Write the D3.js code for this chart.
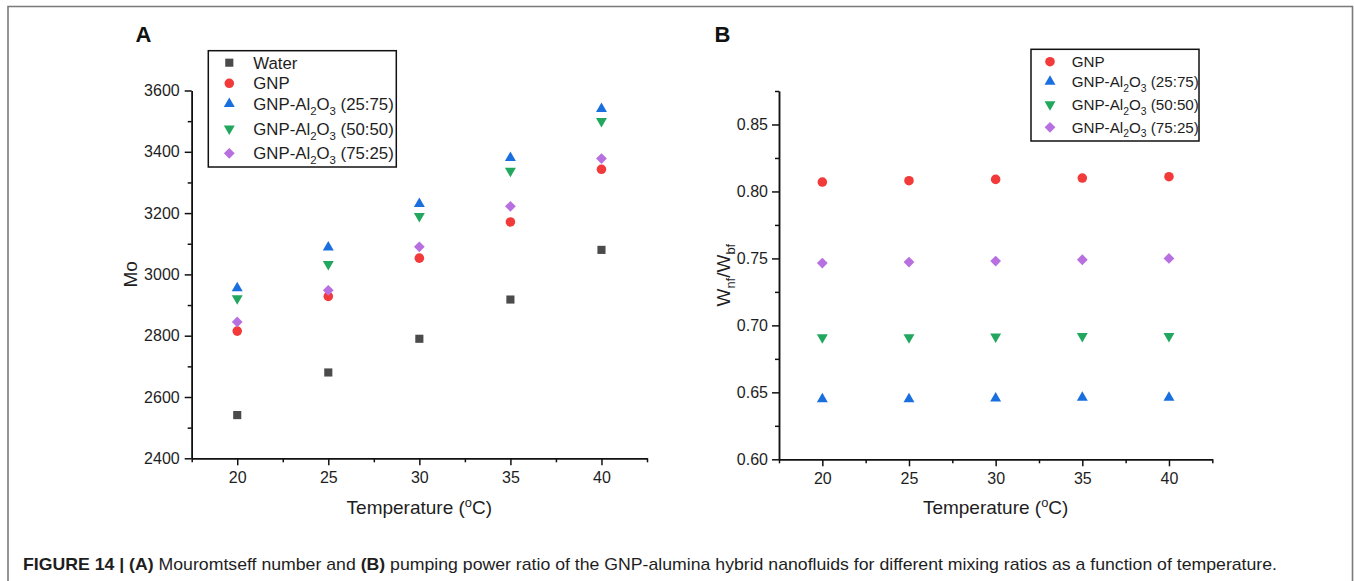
<!DOCTYPE html>
<html><head><meta charset="utf-8">
<script src="https://cdn.jsdelivr.net/npm/d3@7"></script>
<style>body{margin:0;background:#fff}svg{display:block;font-family:"Liberation Sans",Arial,sans-serif}</style>
</head><body><svg id="c" width="1354" height="581"></svg>
<script>
// ---------- data ----------
const temps = [20, 25, 30, 35, 40];
const xMinorTicks = [17.5, 22.5, 27.5, 32.5, 37.5, 42.5];

const moTicks = [2400, 2600, 2800, 3000, 3200, 3400, 3600];
const moMinor = [2500, 2700, 2900, 3100, 3300, 3500];
const moWater   = [2541, 2680, 2790, 2918, 3080];
const moGNP     = [2815, 2928, 3053, 3171, 3343];
const moAl2575  = [2955, 3088, 3230, 3380, 3540];
const moAl5050  = [2922, 3033, 3190, 3338, 3500];
const moAl7525  = [2845, 2948, 3090, 3222, 3378];

const wTicks = [0.60, 0.65, 0.70, 0.75, 0.80, 0.85];
const wMinor = [0.625, 0.675, 0.725, 0.775, 0.825, 0.875];
const wGNP    = [0.807, 0.808, 0.809, 0.810, 0.811];
const wAl2575 = [0.645, 0.645, 0.6455, 0.646, 0.646];
const wAl5050 = [0.691, 0.691, 0.6915, 0.692, 0.692];
const wAl7525 = [0.7465, 0.7473, 0.748, 0.749, 0.750];

const seriesNames = ["Water", "GNP", "GNP-Al2O3 (25:75)", "GNP-Al2O3 (50:50)", "GNP-Al2O3 (75:25)"];
const seriesColors = ["#4b4b4b", "#F33A3A", "#1A6FDF", "#22A85E", "#B86FE0"];
const seriesShapes = ["square", "circle", "up", "down", "diamond"];

const caption = [
  {t: "FIGURE 14 | ", b: true}, {t: "(A)", b: true}, {t: " Mouromtseff number and "},
  {t: "(B)", b: true}, {t: " pumping power ratio of the GNP-alumina hybrid nanofluids for different mixing ratios as a function of temperature."}
];

// ---------- helpers ----------
const svg = d3.select("#c");

function symPath(shape) {
  if (shape === "square") return d3.symbol(d3.symbolSquare, 66)();
  if (shape === "circle") return d3.symbol(d3.symbolCircle, 72)();
  if (shape === "up" || shape === "down") return d3.symbol(d3.symbolTriangle, 52)();
  if (shape === "diamond") return d3.symbol(d3.symbolSquare, 58)();
}
function symRot(shape) {
  return shape === "down" ? 180 : shape === "diamond" ? 45 : 0;
}
function drawSym(g, shape, color, x, y) {
  g.append("path").attr("d", symPath(shape)).attr("fill", color)
    .attr("transform", `translate(${x},${y}) rotate(${symRot(shape)})`);
}
function nameParts(n) {
  const m = n.match(/^GNP-Al2O3(.*)$/);
  if (!m) return [{t: n}];
  return [{t: "GNP-Al"}, {t: "2", sub: true}, {t: "O"}, {t: "3", sub: true}, {t: m[1]}];
}
function richText(sel, parts, fs) {
  let shift = 0;
  parts.forEach(p => {
    const ts = sel.append("tspan").text(p.t);
    let target = p.sub ? fs * 0.3 : p.sup ? -fs * 0.38 : 0;
    if (target !== shift) { ts.attr("dy", target - shift); shift = target; }
    if (p.sub || p.sup) ts.attr("font-size", fs * 0.68);
    if (p.b) ts.attr("font-weight", "bold");
  });
}

// ---------- frame ----------
svg.append("path").attr("d", "M8,581 V6.5 H1352.5 V581").attr("fill", "none")
  .attr("stroke", "#7a7a7a").attr("stroke-width", 1.6);

// ---------- panel builder ----------
function panel(cfg) {
  const g = svg.append("g");
  const x = d3.scaleLinear().domain([17.5, 42.5]).range(cfg.xr);
  const y = d3.scaleLinear().domain(cfg.yd).range(cfg.yr);

  g.append("g").attr("transform", `translate(0,${cfg.yr[0]})`)
    .call(d3.axisBottom(x).tickValues(temps).tickSize(7).tickSizeOuter(0).tickPadding(6).tickFormat(d3.format("d")));
  g.append("g").attr("transform", `translate(0,${cfg.yr[0]})`)
    .call(d3.axisBottom(x).tickValues(xMinorTicks).tickSize(4).tickSizeOuter(0).tickFormat(""));
  g.append("g").attr("transform", `translate(${cfg.xr[0]},0)`)
    .call(d3.axisLeft(y).tickValues(cfg.ticks).tickSize(7).tickSizeOuter(0).tickPadding(cfg.ypad).tickFormat(cfg.fmt));
  g.append("g").attr("transform", `translate(${cfg.xr[0]},0)`)
    .call(d3.axisLeft(y).tickValues(cfg.minor).tickSize(4).tickSizeOuter(0).tickFormat(""));
  g.selectAll(".domain, .tick line").attr("stroke", "#111").attr("stroke-width", 1.5);
  g.selectAll(".tick text").attr("font-size", 16).attr("fill", "#1e1e1e")
    .attr("font-family", '"Liberation Sans",Arial,sans-serif');

  cfg.series.forEach((vals, i) => {
    const si = cfg.idx[i];
    temps.forEach((t, j) => drawSym(g, seriesShapes[si], seriesColors[si], x(t), y(vals[j])));
  });

  const xl = g.append("text").attr("x", (cfg.xr[0] + cfg.xr[1]) / 2).attr("y", 514)
    .attr("text-anchor", "middle").attr("font-size", 19).attr("fill", "#1e1e1e");
  richText(xl, [{t: "Temperature ("}, {t: "o", sup: true}, {t: "C)"}], 19);
  const yl = g.append("text").attr("transform", `translate(${cfg.ylx},${(cfg.yr[0] + cfg.yr[1]) / 2}) rotate(-90)`)
    .attr("text-anchor", "middle").attr("font-size", 19).attr("fill", "#1e1e1e");
  richText(yl, cfg.ylabel, 19);
  g.append("text").attr("x", cfg.letter[0]).attr("y", cfg.letter[1]).attr("font-size", 22)
    .attr("font-weight", "bold").attr("fill", "#111").text(cfg.letter[2]);

  const L = cfg.legend;
  g.append("rect").attr("x", L.x0).attr("y", L.y0).attr("width", L.x1 - L.x0).attr("height", L.y1 - L.y0)
    .attr("fill", "#fff").attr("stroke", "#111").attr("stroke-width", 1.5);
  cfg.idx.forEach((si, k) => {
    const cy = L.rows[k];
    drawSym(g, seriesShapes[si], seriesColors[si], L.sx, cy);
    const tx = g.append("text").attr("x", L.tx).attr("y", cy + L.fs * 0.36)
      .attr("font-size", L.fs).attr("fill", "#1e1e1e");
    richText(tx, nameParts(seriesNames[si]), L.fs);
  });
}

panel({
  xr: [191.7, 647], yd: [2400, 3600], yr: [458.3, 90.5],
  ticks: moTicks, minor: moMinor, fmt: d3.format("d"), ypad: 5,
  series: [moWater, moGNP, moAl2575, moAl5050, moAl7525], idx: [0, 1, 2, 3, 4],
  ylx: 137, ylabel: [{t: "Mo"}], letter: [135.5, 41.7, "A"],
  legend: {x0: 208.3, x1: 396.3, y0: 50.7, y1: 167, sx: 229.3, tx: 253.3, fs: 16.8,
           rows: [62.7, 83.3, 103.8, 128.6, 153.3]}
});

panel({
  xr: [779, 1212.3], yd: [0.6, 0.875], yr: [459.3, 91],
  ticks: wTicks, minor: wMinor, fmt: d3.format(".2f"), ypad: 4,
  series: [wGNP, wAl2575, wAl5050, wAl7525], idx: [1, 2, 3, 4],
  ylx: 729.5, ylabel: [{t: "W"}, {t: "nf", sub: true}, {t: "/W"}, {t: "bf", sub: true}],
  letter: [714.5, 41.7, "B"],
  legend: {x0: 1031, x1: 1199, y0: 49.3, y1: 141, sx: 1050, tx: 1071.7, fs: 15.2,
           rows: [61.7, 81.7, 104.5, 127.3]}
});

// ---------- caption ----------
const cap = svg.append("text").attr("x", 23).attr("y", 570).attr("font-size", 17).attr("fill", "#1e1e1e")
  .attr("font-family", '"Liberation Sans Narrow","Arial Narrow","Liberation Sans",sans-serif')
  .attr("textLength", 1254).attr("lengthAdjust", "spacingAndGlyphs");
richText(cap, caption, 17);
</script></body></html>
